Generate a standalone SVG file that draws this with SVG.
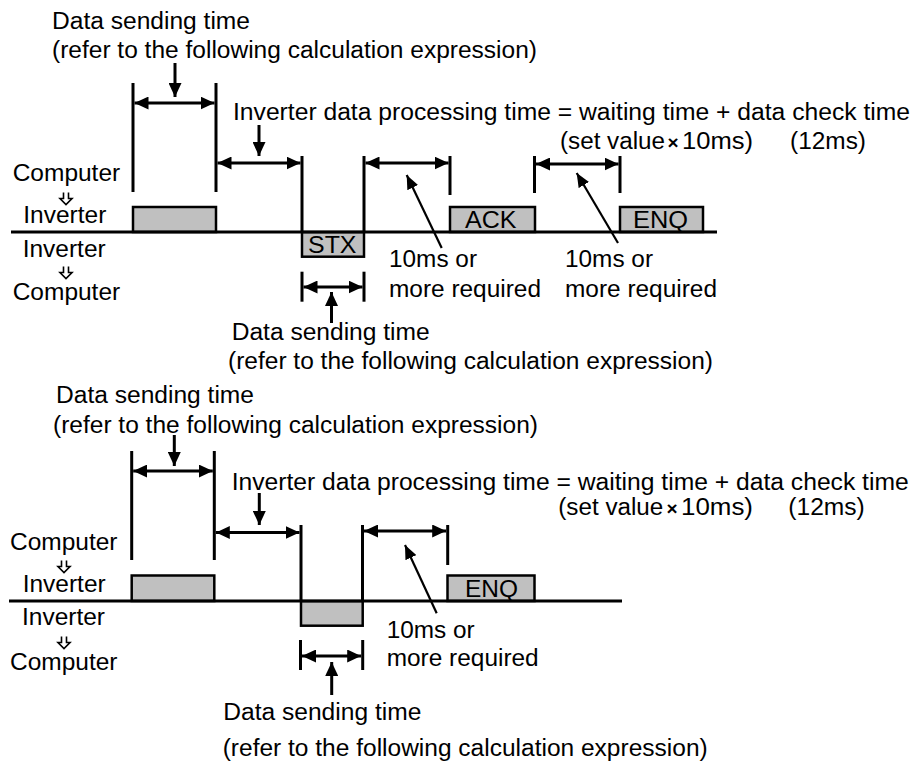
<svg xmlns="http://www.w3.org/2000/svg" width="917" height="762" viewBox="0 0 917 762">
<defs>
<style>
.t{font-family:"Liberation Sans",Arial,Helvetica,sans-serif;font-size:23px;fill:#000}
.x{font-family:"Liberation Sans",Arial,Helvetica,sans-serif;font-size:19px;font-weight:bold;fill:#000}
.ln{stroke:#000;stroke-width:3;fill:none}
.dim{stroke:#000;stroke-width:3;fill:none;marker-start:url(#ah);marker-end:url(#ah)}
.ptr{stroke:#000;stroke-width:3;fill:none;marker-end:url(#ah)}
.sl{stroke:#000;stroke-width:2.2;fill:none;marker-end:url(#ah2)}
.box{fill:#c0c0c0;stroke:#000;stroke-width:2.5}
.sym{fill:none;stroke:#000;stroke-width:1.6}
</style>
<marker id="ah" viewBox="0 0 14 13" refX="14" refY="6.5" markerWidth="14" markerHeight="13" markerUnits="userSpaceOnUse" orient="auto-start-reverse"><path d="M0,0 L14,6.5 L0,13 z" fill="#000"/></marker>
<marker id="ah2" viewBox="0 0 14 12" refX="14" refY="6" markerWidth="14" markerHeight="12" markerUnits="userSpaceOnUse" orient="auto"><path d="M0,0 L14,6 L0,12 z" fill="#000"/></marker>
</defs>
<rect width="917" height="762" fill="#fff"/>

<!-- ============ TOP PANEL ============ -->
<g id="top-frames">
<g id="top-frame-data"><rect class="box" x="133" y="207" width="83" height="25"/></g>
<g id="top-frame-stx"><rect class="box" x="302" y="232" width="62" height="24.7"/><text class="t" x="308" y="253" textLength="48.5" lengthAdjust="spacingAndGlyphs">STX</text></g>
<g id="top-frame-ack"><rect class="box" x="450" y="207" width="85" height="25"/><text class="t" x="465" y="228.3" textLength="51.5" lengthAdjust="spacingAndGlyphs">ACK</text></g>
<g id="top-frame-enq"><rect class="box" x="620" y="207" width="83" height="25"/><text class="t" x="633" y="228.3" textLength="55" lengthAdjust="spacingAndGlyphs">ENQ</text></g>
</g>

<g id="top-labels">
<g id="top-lbl-send1"><text class="t" x="52" y="28.5" textLength="198" lengthAdjust="spacingAndGlyphs">Data sending time</text><text class="t" x="52" y="58" textLength="485" lengthAdjust="spacingAndGlyphs">(refer to the following calculation expression)</text></g>
<g id="top-lbl-proc"><text class="t" x="233" y="120" textLength="677" lengthAdjust="spacingAndGlyphs">Inverter data processing time = waiting time + data check time</text>
<text class="t" x="560" y="148.5" textLength="105" lengthAdjust="spacingAndGlyphs">(set value</text><text class="x" x="673" y="148.5" text-anchor="middle">×</text><text class="t" x="682" y="148.5" textLength="71" lengthAdjust="spacingAndGlyphs">10ms)</text><text class="t" x="790" y="148.5" textLength="76" lengthAdjust="spacingAndGlyphs">(12ms)</text></g>
<g id="top-lbl-c2i"><text class="t" x="12.7" y="181" textLength="107.5" lengthAdjust="spacingAndGlyphs">Computer</text><path class="sym" d="M63.5,192.5 V198.5 H60 L66,204.5 L72,198.5 H68.5 V192.5"/><text class="t" x="23.3" y="223" textLength="83" lengthAdjust="spacingAndGlyphs">Inverter</text></g>
<g id="top-lbl-i2c"><text class="t" x="22.7" y="256.5" textLength="83" lengthAdjust="spacingAndGlyphs">Inverter</text><path class="sym" d="M63.5,266.5 V272.5 H60 L66,278.5 L72,272.5 H68.5 V266.5"/><text class="t" x="12.7" y="300" textLength="107.5" lengthAdjust="spacingAndGlyphs">Computer</text></g>
<g id="top-lbl-10ms-a"><text class="t" x="389" y="266.7" textLength="88" lengthAdjust="spacingAndGlyphs">10ms or</text><text class="t" x="389" y="296.7" textLength="152" lengthAdjust="spacingAndGlyphs">more required</text></g>
<g id="top-lbl-10ms-b"><text class="t" x="565" y="266.7" textLength="88" lengthAdjust="spacingAndGlyphs">10ms or</text><text class="t" x="565" y="296.7" textLength="152" lengthAdjust="spacingAndGlyphs">more required</text></g>
<g id="top-lbl-send2"><text class="t" x="231.7" y="340" textLength="198" lengthAdjust="spacingAndGlyphs">Data sending time</text><text class="t" x="228" y="369" textLength="485" lengthAdjust="spacingAndGlyphs">(refer to the following calculation expression)</text></g>
</g>

<g id="top-connectors">
<line class="ln" x1="11" y1="232" x2="717" y2="232"/>
<line class="ln" x1="133" y1="83" x2="133" y2="192"/>
<line class="ln" x1="216" y1="83" x2="216" y2="192"/>
<line class="dim" x1="134.5" y1="103" x2="214.5" y2="103"/>
<line class="ptr" x1="175" y1="63" x2="175" y2="97"/>
<line class="ln" x1="302" y1="156" x2="302" y2="232"/>
<line class="dim" x1="217.5" y1="163" x2="300.5" y2="163"/>
<line class="ptr" x1="259" y1="125" x2="259" y2="156"/>
<line class="ln" x1="364" y1="156" x2="364" y2="232"/>
<line class="ln" x1="450" y1="156" x2="450" y2="195"/>
<line class="dim" x1="365.5" y1="163" x2="448.5" y2="163"/>
<line class="sl" x1="441.7" y1="248" x2="406.7" y2="175"/>
<line class="ln" x1="534.5" y1="156" x2="534.5" y2="193"/>
<line class="ln" x1="620" y1="156" x2="620" y2="193"/>
<line class="dim" x1="536" y1="164" x2="618.5" y2="164"/>
<line class="sl" x1="618" y1="243" x2="576.7" y2="173"/>
<line class="ln" x1="302" y1="271.7" x2="302" y2="301.7"/>
<line class="ln" x1="364" y1="271.7" x2="364" y2="301.7"/>
<line class="dim" x1="303.5" y1="287" x2="362.5" y2="287"/>
<line class="ptr" x1="331.5" y1="323" x2="331.5" y2="292"/>
</g>

<!-- ============ BOTTOM PANEL ============ -->
<g id="bot-frames">
<g id="bot-frame-data"><rect class="box" x="131.7" y="575.5" width="82.6" height="25.5"/></g>
<g id="bot-frame-resp"><rect class="box" x="301" y="601" width="61.7" height="24.7"/></g>
<g id="bot-frame-enq"><rect class="box" x="447.5" y="575.5" width="87" height="25.5"/><text class="t" x="465" y="597" textLength="53" lengthAdjust="spacingAndGlyphs">ENQ</text></g>
</g>

<g id="bot-labels">
<g id="bot-lbl-send1"><text class="t" x="56" y="403" textLength="198" lengthAdjust="spacingAndGlyphs">Data sending time</text><text class="t" x="53" y="433" textLength="485" lengthAdjust="spacingAndGlyphs">(refer to the following calculation expression)</text></g>
<g id="bot-lbl-proc"><text class="t" x="231.7" y="490" textLength="677" lengthAdjust="spacingAndGlyphs">Inverter data processing time = waiting time + data check time</text>
<text class="t" x="558.3" y="515" textLength="105" lengthAdjust="spacingAndGlyphs">(set value</text><text class="x" x="672" y="515" text-anchor="middle">×</text><text class="t" x="681" y="515" textLength="72" lengthAdjust="spacingAndGlyphs">10ms)</text><text class="t" x="788.3" y="515" textLength="76.5" lengthAdjust="spacingAndGlyphs">(12ms)</text></g>
<g id="bot-lbl-c2i"><text class="t" x="10" y="550" textLength="107.5" lengthAdjust="spacingAndGlyphs">Computer</text><path class="sym" d="M61.5,560.5 V566.5 H58 L64,572.5 L70,566.5 H66.5 V560.5"/><text class="t" x="22.7" y="591.7" textLength="83" lengthAdjust="spacingAndGlyphs">Inverter</text></g>
<g id="bot-lbl-i2c"><text class="t" x="22" y="625" textLength="83" lengthAdjust="spacingAndGlyphs">Inverter</text><path class="sym" d="M61.5,636.5 V642.5 H58 L64,648.5 L70,642.5 H66.5 V636.5"/><text class="t" x="10" y="670" textLength="107.5" lengthAdjust="spacingAndGlyphs">Computer</text></g>
<g id="bot-lbl-10ms"><text class="t" x="386.7" y="638" textLength="88" lengthAdjust="spacingAndGlyphs">10ms or</text><text class="t" x="386.7" y="666" textLength="152" lengthAdjust="spacingAndGlyphs">more required</text></g>
<g id="bot-lbl-send2"><text class="t" x="223.3" y="720" textLength="198" lengthAdjust="spacingAndGlyphs">Data sending time</text><text class="t" x="222.7" y="756" textLength="485" lengthAdjust="spacingAndGlyphs">(refer to the following calculation expression)</text></g>
</g>

<g id="bot-connectors">
<line class="ln" x1="9" y1="601" x2="622" y2="601"/>
<line class="ln" x1="131.7" y1="451" x2="131.7" y2="560"/>
<line class="ln" x1="214.3" y1="451" x2="214.3" y2="560"/>
<line class="dim" x1="133.2" y1="471" x2="212.8" y2="471"/>
<line class="ptr" x1="174.3" y1="435" x2="174.3" y2="466"/>
<line class="ln" x1="301" y1="525" x2="301" y2="601"/>
<line class="dim" x1="215.8" y1="532.5" x2="299.5" y2="532.5"/>
<line class="ptr" x1="259.3" y1="493" x2="259.3" y2="525"/>
<line class="ln" x1="362.5" y1="525" x2="362.5" y2="601"/>
<line class="ln" x1="447.7" y1="525" x2="447.7" y2="565"/>
<line class="dim" x1="364" y1="531" x2="446.2" y2="531"/>
<line class="sl" x1="436.7" y1="613.3" x2="405" y2="545"/>
<line class="ln" x1="300.5" y1="640" x2="300.5" y2="670"/>
<line class="ln" x1="362.7" y1="640" x2="362.7" y2="670"/>
<line class="dim" x1="302" y1="656" x2="361.2" y2="656"/>
<line class="ptr" x1="331.7" y1="695" x2="331.7" y2="662"/>
</g>
</svg>
